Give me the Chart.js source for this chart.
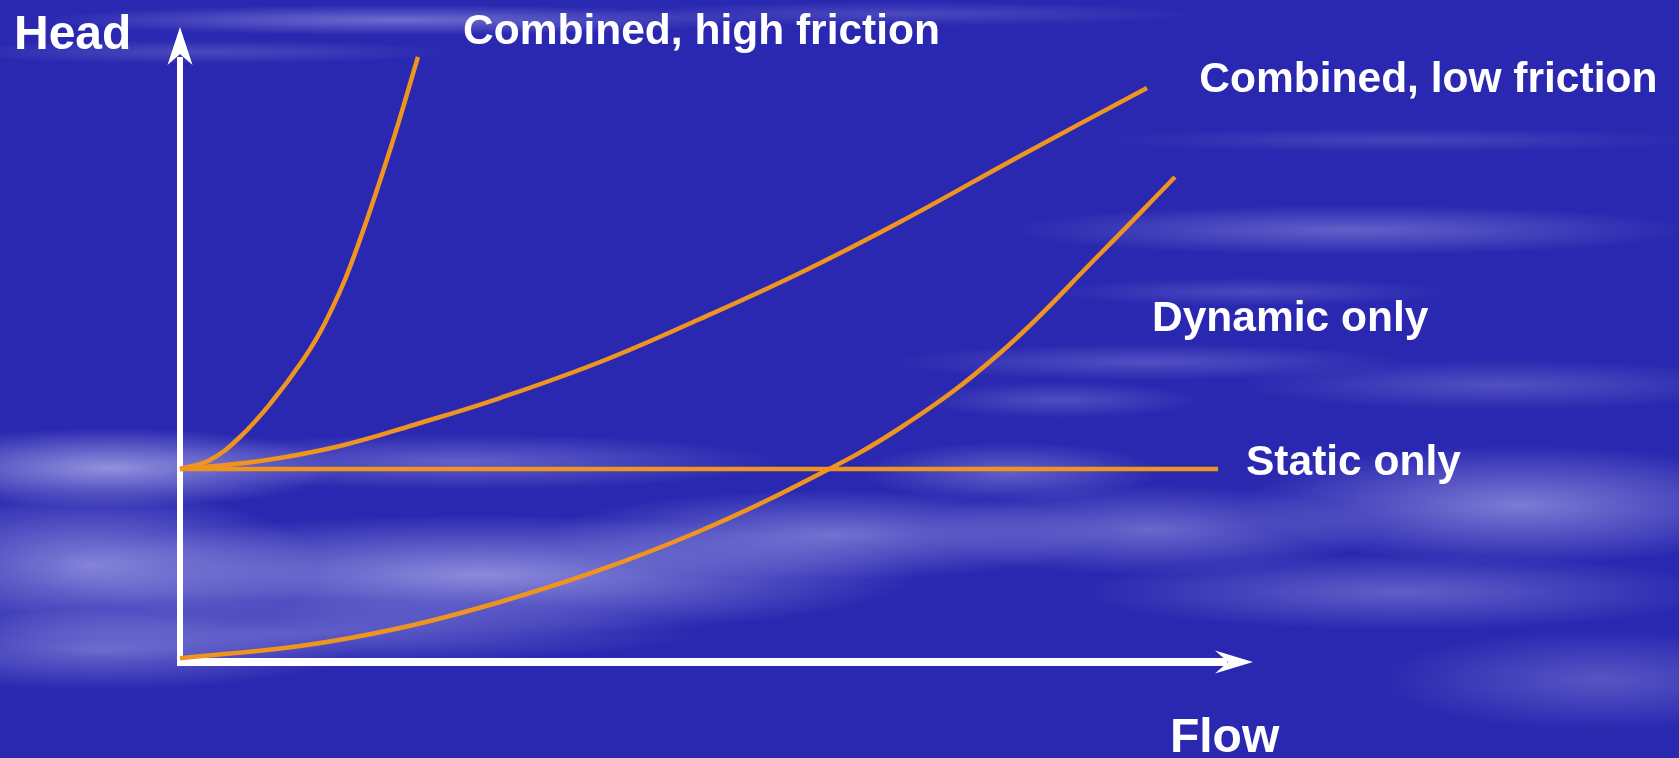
<!DOCTYPE html>
<html>
<head>
<meta charset="utf-8">
<title>Head vs Flow</title>
<script src="https://cdn.jsdelivr.net/npm/chart.js@4.4.1/dist/chart.umd.min.js"></script>
<style>
html, body { margin: 0; padding: 0; overflow: hidden; }
body {
    width: 1679px;
    height: 758px;
    background-color: #2a28b0;
    background-image:
        radial-gradient(ellipse 360px 15px at 400px 20px, rgba(175,175,235,0.5), transparent),
        radial-gradient(ellipse 260px 12px at 200px 52px, rgba(150,150,220,0.3), transparent),
        radial-gradient(ellipse 300px 12px at 900px 14px, rgba(150,150,220,0.3), transparent),
        radial-gradient(ellipse 300px 12px at 1400px 140px, rgba(150,150,220,0.25), transparent),
        radial-gradient(ellipse 230px 40px at 110px 468px, rgba(190,190,240,0.7), transparent),
        radial-gradient(ellipse 230px 75px at 90px 565px, rgba(175,175,236,0.65), transparent),
        radial-gradient(ellipse 250px 40px at 100px 650px, rgba(165,165,232,0.5), transparent),
        radial-gradient(ellipse 320px 28px at 460px 462px, rgba(165,165,232,0.45), transparent),
        radial-gradient(ellipse 440px 60px at 480px 575px, rgba(180,180,238,0.7), transparent),
        radial-gradient(ellipse 280px 45px at 830px 535px, rgba(175,175,236,0.55), transparent),
        radial-gradient(ellipse 150px 30px at 1010px 472px, rgba(165,165,232,0.45), transparent),
        radial-gradient(ellipse 380px 32px at 320px 632px, rgba(160,160,230,0.45), transparent),
        radial-gradient(ellipse 140px 18px at 1060px 400px, rgba(150,150,222,0.35), transparent),
        radial-gradient(ellipse 340px 25px at 1350px 230px, rgba(165,165,232,0.45), transparent),
        radial-gradient(ellipse 200px 14px at 1250px 292px, rgba(150,150,222,0.3), transparent),
        radial-gradient(ellipse 260px 18px at 1150px 362px, rgba(155,155,225,0.35), transparent),
        radial-gradient(ellipse 260px 25px at 1500px 385px, rgba(155,155,225,0.35), transparent),
        radial-gradient(ellipse 280px 60px at 1520px 505px, rgba(178,178,236,0.6), transparent),
        radial-gradient(ellipse 230px 45px at 1150px 530px, rgba(168,168,232,0.5), transparent),
        radial-gradient(ellipse 320px 38px at 1400px 592px, rgba(162,162,228,0.45), transparent),
        radial-gradient(ellipse 220px 50px at 1600px 680px, rgba(155,155,225,0.4), transparent);
}
canvas { display: block; }
</style>
</head>
<body>
<canvas id="headChart" width="1679" height="758"></canvas>
<script>
// readings: flow on x, head on y, both 0-100 (no units shown)
const staticFlow = [0, 96.74];
const staticHead = [30.39, 30.39];

const dynamicFlow = [0, 11.18, 20.50, 29.82, 39.14, 48.46, 57.78, 67.10, 76.42, 85.74, 92.73];
const dynamicHead = [0.6, 2.52, 5.35, 9.45, 14.49, 20.63, 28.03, 36.85, 48.66, 64.25, 76.38];

const lowFrictionFlow = [0, 7.46, 14.91, 22.37, 29.82, 39.14, 48.46, 57.78, 67.10, 78.29, 90.12];
const lowFrictionHead = [30.39, 31.65, 34.02, 37.64, 41.57, 47.24, 54.02, 61.26, 69.29, 79.69, 90.39];

const highFrictionFlow = [0, 2.80, 5.59, 8.39, 11.46, 13.51, 15.84, 19.57, 22.18];
const highFrictionHead = [30.39, 31.81, 35.43, 40.63, 47.56, 53.39, 62.20, 80.63, 95.28];

// text labels, anchored in data units (left edge, baseline)
const labels = [
    { text: 'Head', x: -15.47, y: 96.54, size: 48 },
    { text: 'Combined, high friction', x: 26.38, y: 97.32, size: 42.5 },
    { text: 'Combined, low friction', x: 95.0, y: 89.76, size: 42.5 },
    { text: 'Dynamic only', x: 90.59, y: 52.13, size: 42.5 },
    { text: 'Static only', x: 99.35, y: 29.45, size: 42.5 },
    { text: 'Flow', x: 92.26, y: -14.17, size: 48 }
];

const ORANGE = '#ef951f';
const FONT = '"Liberation Sans", Arial, sans-serif';

function toPoints(xs, ys) {
    return xs.map((x, i) => ({ x: x, y: ys[i] }));
}

function curve(xs, ys) {
    return {
        data: toPoints(xs, ys),
        borderColor: ORANGE,
        borderWidth: 4.5,
        pointRadius: 0,
        tension: 0.4,
        clip: false,
        fill: false
    };
}

// axes with arrowheads under the curves, text on top
const axesPlugin = {
    id: 'arrowAxes',
    beforeDatasetsDraw(chart) {
        const ctx = chart.ctx;
        const xs = chart.scales.x, ys = chart.scales.y;
        const ox = xs.getPixelForValue(0), oy = ys.getPixelForValue(0);
        const tipX = xs.getPixelForValue(100), tipY = ys.getPixelForValue(100);
        ctx.save();
        ctx.strokeStyle = '#ffffff';
        ctx.fillStyle = '#ffffff';
        ctx.lineCap = 'butt';

        ctx.lineWidth = 6;
        ctx.beginPath();
        ctx.moveTo(ox, oy + 4);
        ctx.lineTo(ox, tipY + 30);
        ctx.stroke();

        ctx.lineWidth = 8;
        ctx.beginPath();
        ctx.moveTo(ox - 3, oy);
        ctx.lineTo(tipX - 26, oy);
        ctx.stroke();

        ctx.beginPath();
        ctx.moveTo(ox, tipY);
        ctx.lineTo(ox + 12.5, tipY + 38);
        ctx.lineTo(ox, tipY + 27);
        ctx.lineTo(ox - 12.5, tipY + 38);
        ctx.closePath();
        ctx.fill();

        ctx.beginPath();
        ctx.moveTo(tipX, oy);
        ctx.lineTo(tipX - 38, oy - 11.5);
        ctx.lineTo(tipX - 25, oy);
        ctx.lineTo(tipX - 38, oy + 11.5);
        ctx.closePath();
        ctx.fill();
        ctx.restore();
    },
    afterDraw(chart) {
        const ctx = chart.ctx;
        const xs = chart.scales.x, ys = chart.scales.y;
        ctx.save();
        ctx.fillStyle = '#ffffff';
        ctx.textAlign = 'left';
        ctx.textBaseline = 'alphabetic';
        labels.forEach(l => {
            ctx.font = 'bold ' + l.size + 'px ' + FONT;
            ctx.fillText(l.text, xs.getPixelForValue(l.x), ys.getPixelForValue(l.y));
        });
        ctx.restore();
    }
};

const ctx = document.getElementById('headChart').getContext('2d');
new Chart(ctx, {
    type: 'line',
    data: {
        datasets: [
            curve(staticFlow, staticHead),
            curve(dynamicFlow, dynamicHead),
            curve(lowFrictionFlow, lowFrictionHead),
            curve(highFrictionFlow, highFrictionHead)
        ]
    },
    options: {
        responsive: false,
        animation: false,
        layout: { padding: { left: 180, top: 27, right: 426, bottom: 96 } },
        plugins: {
            legend: { display: false },
            tooltip: { enabled: false }
        },
        scales: {
            x: {
                type: 'linear', min: 0, max: 100,
                grid: { display: false, drawTicks: false },
                border: { display: false },
                ticks: { display: false }
            },
            y: {
                type: 'linear', min: 0, max: 100,
                grid: { display: false, drawTicks: false },
                border: { display: false },
                ticks: { display: false }
            }
        }
    },
    plugins: [axesPlugin]
});
</script>
</body>
</html>
